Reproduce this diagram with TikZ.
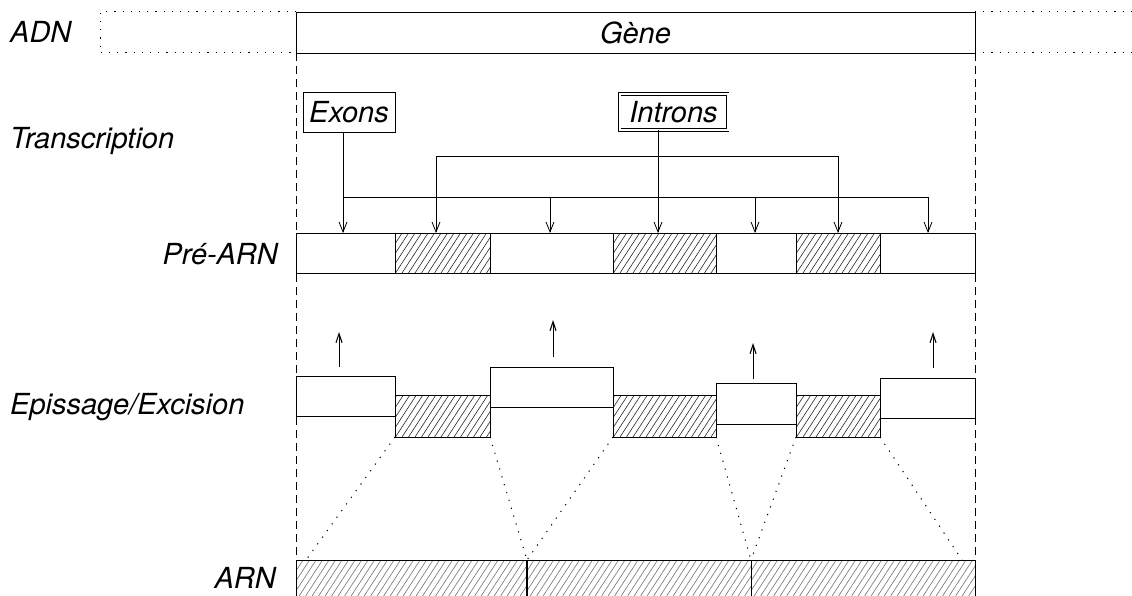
\documentclass[tikz,border=0pt]{standalone}
\usepackage{fontspec}
\setmainfont{TeX Gyre Heros}
\usetikzlibrary{arrows.meta,calc}
\begin{document}
\begin{tikzpicture}[x=1pt,y=-1pt,
  lbl/.style={font=\fontsize{29}{30}\selectfont\itshape, inner sep=0pt},
  box/.style={draw, line width=0.9pt, inner sep=0pt, outer sep=0pt, anchor=north west},
  hatchlines/.style={path picture={
      \foreach \k in {-45,-38.5,...,235}
        \draw[line width=0.6pt, #1]
          ([xshift=\k pt]path picture bounding box.south west) -- ++(30,-46);
    }},
  hatch/.style={hatchlines=black!85},
  lighthatch/.style={hatchlines=black!55},
  dotline/.style={line width=1pt, dash pattern=on 1.2pt off 7pt},
  dashline/.style={line width=1pt, dash pattern=on 8pt off 5pt},
  downarrow/.style={line width=0.8pt, -{Straight Barb[length=10pt,width=8pt,line width=0.8pt]}},
  uparrow/.style={line width=0.9pt, -{Straight Barb[length=9pt,width=6pt,line width=1.1pt]}},
  bus/.style={line width=0.8pt}]
\useasboundingbox (0,0) rectangle (1132,596);

% ---- ADN / Gene
\node[box, lbl, minimum width=679pt, minimum height=41pt] (gene) at (296,12) {Gène};
\coordinate (adnL) at (100,0);
\coordinate (adnR) at (1132,0);
\draw[dotline] (gene.north west) -- (adnL |- gene.north) -- (adnL |- gene.south) -- (gene.south west);
\draw[dotline] (gene.north east) -- (adnR |- gene.north);
\draw[dotline] (gene.south east) -- (adnR |- gene.south);

% ---- labels
\node[lbl, anchor=base west] (adn) at (10,42.5) {ADN};
\node[lbl, anchor=base west] (transc) at (10,148.5) {Transcription};
\node[lbl, anchor=base east] (pre) at (278,264.5) {Pré-ARN};
\node[lbl, anchor=base west] (epi) at (10,414.5) {Epissage/Excision};
\node[lbl, anchor=base east] (arnlbl) at (276,588.5) {ARN};

% ---- Exons / Introns
\node[box, lbl, minimum width=92pt, minimum height=40pt] (exons) at (303,92) {Exons};
\node[lbl, draw, double, double distance=2pt, line width=0.7pt, outer sep=0pt,
      minimum width=108pt, minimum height=36pt, anchor=north west] (introns) at (619.5,94) {Introns};

% ---- Pre-ARN
\node[box, minimum width=99pt, minimum height=40pt] (p1) at (296,233) {};
\node[box, hatch, minimum width=95pt, minimum height=40pt] (p2) at (395,233) {};
\node[box, minimum width=123pt, minimum height=40pt] (p3) at (490,233) {};
\node[box, hatch, minimum width=103pt, minimum height=40pt] (p4) at (613,233) {};
\node[box, minimum width=80pt, minimum height=40pt] (p5) at (716,233) {};
\node[box, hatch, minimum width=84pt, minimum height=40pt] (p6) at (796,233) {};
\node[box, minimum width=95pt, minimum height=40pt] (p7) at (880,233) {};

% ---- transcription connectors
\coordinate (t1) at (343,233);
\coordinate (t2) at (436,233);
\coordinate (t3) at (550,233);
\coordinate (t4) at (658,233);
\coordinate (t5) at (755,233);
\coordinate (t6) at (838,233);
\coordinate (t7) at (928,233);
\coordinate (exonbus) at (0,197);
\coordinate (intronbus) at (0,156);
\draw[bus] (t1 |- exonbus) -- (t7 |- exonbus);
\draw[bus] (t2 |- intronbus) -- (t6 |- intronbus);
\draw[downarrow] (t1 |- exons.south) -- (t1);
\draw[downarrow] (t4 |- introns.south) -- (t4);
\draw[downarrow] (t3 |- exonbus) -- (t3);
\draw[downarrow] (t5 |- exonbus) -- (t5);
\draw[downarrow] (t7 |- exonbus) -- (t7);
\draw[downarrow] (t2 |- intronbus) -- (t2);
\draw[downarrow] (t6 |- intronbus) -- (t6);

% ---- Epissage / Excision
\node[box, minimum width=99pt, minimum height=40pt] (e1) at (296,376) {};
\node[box, hatch, minimum width=95pt, minimum height=42pt] (i1) at (395,395) {};
\node[box, minimum width=123pt, minimum height=40pt] (e2) at (490,367) {};
\node[box, hatch, minimum width=103pt, minimum height=42pt] (i2) at (613,395) {};
\node[box, minimum width=80pt, minimum height=41pt] (e3) at (716,383) {};
\node[box, hatch, minimum width=84pt, minimum height=42pt] (i3) at (796,395) {};
\node[box, minimum width=95pt, minimum height=40pt] (e4) at (880,378) {};

\draw[uparrow] ([yshift=9pt]e1.north -| 339,0) -- ++(0,-35);
\draw[uparrow] ([yshift=10pt]e2.north -| 553,0) -- ++(0,-37);
\draw[uparrow] ([yshift=4pt]e3.north -| 753,0) -- ++(0,-36);
\draw[uparrow] ([yshift=10pt]e4.north -| 933,0) -- ++(0,-36);

% ---- ARN
\node[box, lighthatch, minimum width=231pt, minimum height=40pt] (a1) at (296,560) {};
\node[box, lighthatch, minimum width=224pt, minimum height=40pt] (a2) at (527,560) {};
\node[box, lighthatch, minimum width=224pt, minimum height=40pt] (a3) at (751,560) {};
\draw[line width=1.8pt] (a1.north east) -- (a1.south east);

% ---- dashed gene limits
\draw[dashline] (gene.south west) -- (a1.north west);
\draw[dashline] (gene.south east) -- (a3.north east);

% ---- dotted splicing lines
\coordinate (arnL) at (306,560);
\coordinate (arnR) at (962,560);
\draw[dotline] (i1.south west) -- (arnL);
\draw[dotline] (i1.south east) -- (a1.north east);
\draw[dotline] (i2.south west) -- (a2.north west);
\draw[dotline] (i2.south east) -- (a2.north east);
\draw[dotline] (i3.south west) -- (a3.north west);
\draw[dotline] (i3.south east) -- (arnR);
\end{tikzpicture}
\end{document}
